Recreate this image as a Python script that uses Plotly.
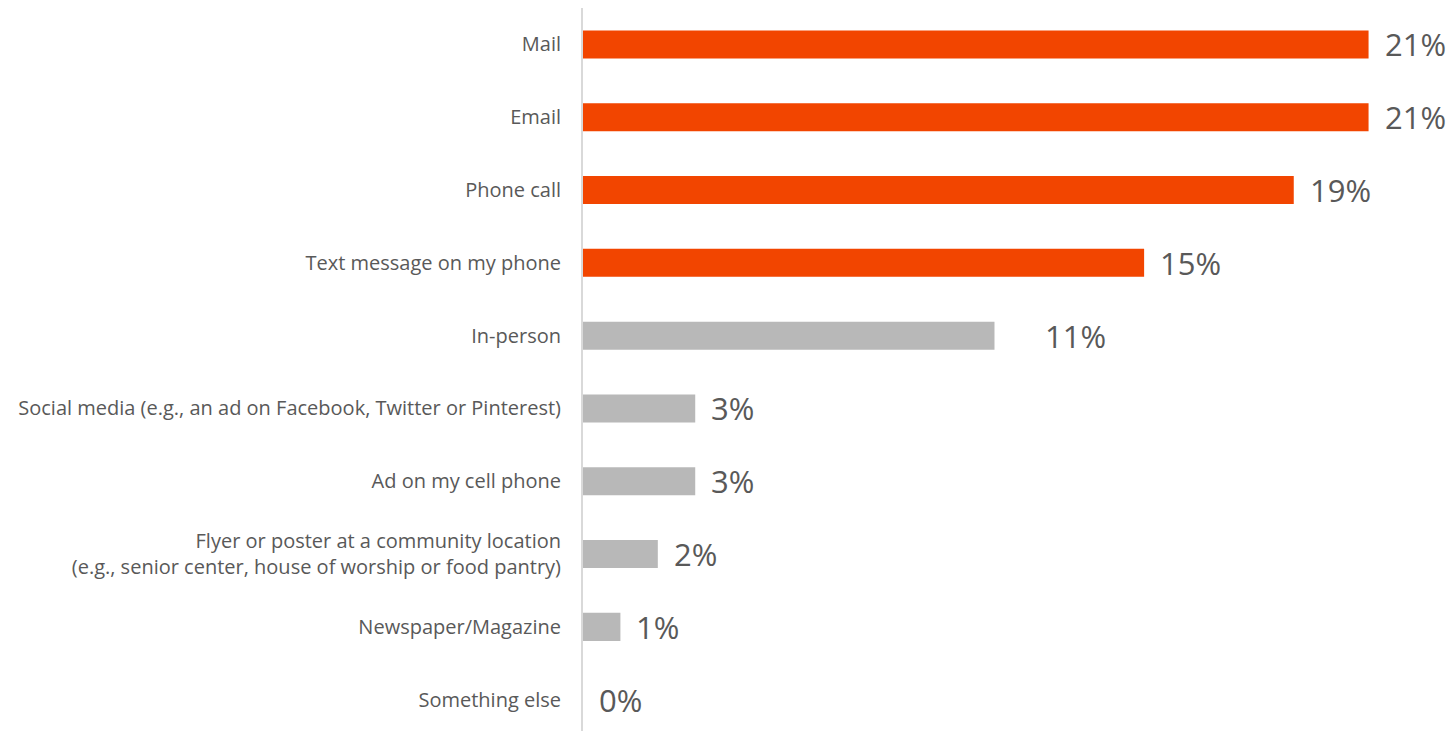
import plotly.graph_objects as go

categories = [
    "Mail",
    "Email",
    "Phone call",
    "Text message on my phone",
    "In-person",
    "Social media (e.g., an ad on Facebook, Twitter or Pinterest)",
    "Ad on my cell phone",
    "Flyer or poster at a community location<br>(e.g., senior center, house of worship or food pantry)",
    "Newspaper/Magazine",
    "Something else",
]
values = [21, 21, 19, 15, 11, 3, 3, 2, 1, 0]
highlighted = [True, True, True, True, False, False, False, False, False, False]

ORANGE = "#F24500"
GREY = "#B8B8B8"
TEXT = "#595959"
FONT = "Open Sans"

colors = [ORANGE if h else GREY for h in highlighted]

fig = go.Figure(
    go.Bar(
        x=values,
        y=categories,
        orientation="h",
        marker=dict(color=colors, line=dict(width=0)),
        width=0.385,
        hoverinfo="skip",
    )
)

# value labels just past the end of each bar
label_shift = {"In-person": 49}
for cat, v in zip(categories, values):
    fig.add_annotation(
        x=v,
        y=cat,
        text=f"{v}%",
        showarrow=False,
        xanchor="left",
        yanchor="middle",
        xshift=label_shift.get(cat, 14),
        font=dict(family=FONT, size=31, color=TEXT),
    )

fig.update_layout(
    width=1449,
    height=731,
    margin=dict(l=583, r=0, t=8, b=0),
    paper_bgcolor="white",
    plot_bgcolor="white",
    showlegend=False,
    font=dict(family=FONT, color=TEXT),
)
fig.update_xaxes(
    range=[0, 23.15],
    visible=False,
    showgrid=False,
    zeroline=False,
)
fig.update_yaxes(
    type="category",
    range=[9.43, -0.5],
    showgrid=False,
    zeroline=False,
    showline=True,
    linecolor="#D9D9D9",
    linewidth=2,
    ticks="",
    ticklabelstandoff=16,
    tickfont=dict(family=FONT, size=20, color=TEXT),
)

fig.write_html("out.html")
